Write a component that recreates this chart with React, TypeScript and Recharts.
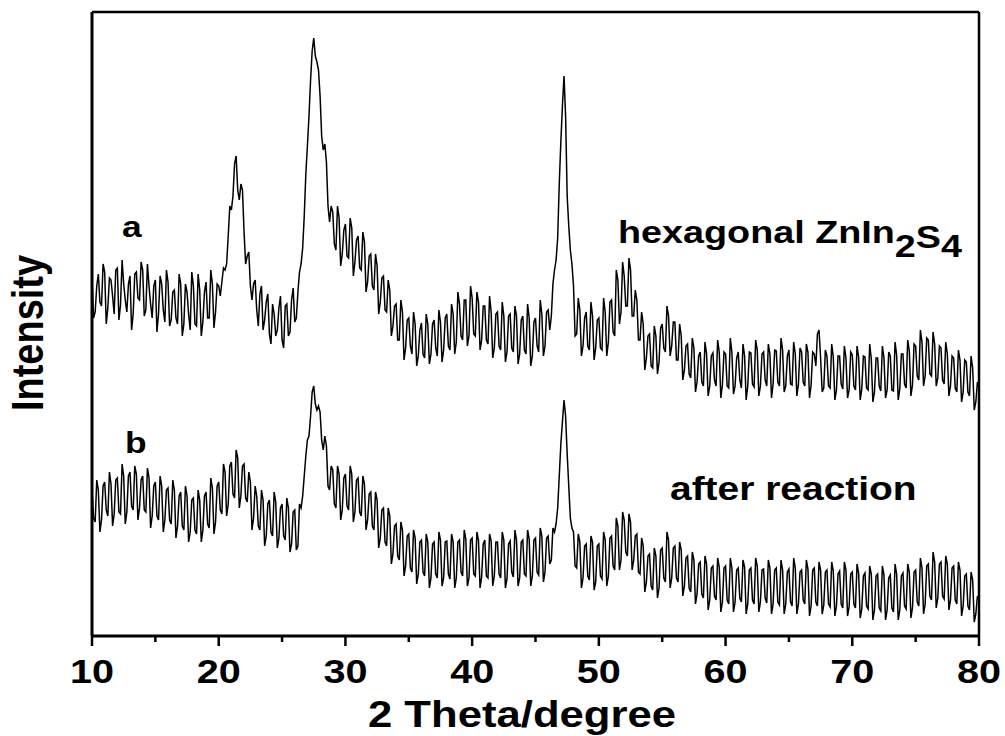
import { LineChart, Line, XAxis, YAxis } from "recharts";

// XRD patterns: main samples every 0.25° from 10° to 80°,
// plus the in-between samples (at +0.125°) that carry the rest of the noise.
const START = 10;
const STEP = 0.25;

// a: hexagonal ZnIn2S4
const SERIES_A = [
  358, 324, 362, 330, 364, 328, 356, 322, 368, 331, 352, 324, 360, 322, 364, 336,
  366, 326, 350, 318, 356, 322, 352, 314, 354, 316, 346, 312, 352, 312, 344, 306,
  350, 310, 346, 314, 354, 318, 352, 324, 350, 354, 366, 400, 426, 472, 446, 452,
  404, 380, 350, 352, 326, 342, 306, 334, 302, 332, 300, 328, 296, 330, 300, 336,
  314, 344, 372, 420, 490, 556, 598, 574, 540, 486, 474, 414, 424, 386, 418, 382,
  412, 378, 408, 374, 400, 366, 394, 354, 382, 346, 370, 334, 360, 324, 346, 310,
  332, 296, 324, 288, 318, 282, 312, 280, 313, 278, 312, 282, 316, 280, 314, 286,
  322, 286, 322, 294, 332, 296, 336, 300, 338, 300, 334, 296, 330, 292, 324, 288,
  324, 286, 320, 284, 322, 284, 320, 282, 320, 282, 318, 280, 318, 284, 322, 290,
  326, 320, 366, 398, 494, 560, 440, 386, 350, 302, 326, 290, 324, 286, 320, 288,
  318, 286, 324, 294, 336, 300, 356, 324, 360, 330, 366, 320, 336, 296, 312, 278,
  302, 268, 300, 274, 312, 284, 320, 290, 314, 276, 300, 266, 292, 258, 288, 254,
  284, 250, 282, 250, 283, 250, 284, 251, 282, 248, 283, 250, 284, 248, 280, 250,
  283, 249, 286, 250, 284, 250, 282, 252, 285, 250, 286, 250, 286, 251, 282, 252,
  284, 250, 284, 251, 282, 302, 278, 248, 280, 248, 279, 246, 280, 247, 278, 246,
  281, 246, 279, 247, 279, 246, 277, 244, 278, 245, 278, 246, 280, 245, 281, 247,
  282, 248, 285, 251, 290, 256, 294, 260, 296, 260, 292, 258, 288, 252, 282, 250,
  278, 244, 276, 244, 274, 240, 268, 234, 248,
];

const SERIES_A_MID = [
  318, 350, 334, 372, 312, 358, 340, 366, 316, 376, 336, 352, 306, 362, 338, 374,
  320, 372, 332, 350, 304, 360, 326, 366, 310, 344, 318, 362, 300, 352, 322, 364,
  312, 362, 300, 344, 318, 366, 308, 352, 340, 368, 372, 430, 440, 480, 436, 446,
  372, 384, 336, 356, 310, 350, 316, 342, 292, 322, 306, 340, 288, 332, 304, 348,
  318, 364, 388, 462, 520, 585, 580, 566, 500, 492, 430, 430, 392, 430, 370, 406,
  380, 418, 360, 396, 368, 404, 344, 380, 350, 382, 322, 358, 326, 356, 300, 330,
  296, 336, 276, 316, 290, 324, 270, 306, 282, 322, 272, 312, 288, 326, 274, 318,
  290, 332, 282, 344, 300, 336, 290, 350, 302, 344, 286, 330, 296, 340, 278, 322,
  290, 334, 274, 320, 288, 330, 272, 316, 286, 332, 270, 314, 290, 336, 280, 324,
  306, 352, 376, 452, 530, 520, 410, 372, 300, 338, 280, 318, 290, 334, 276, 316,
  288, 338, 280, 334, 304, 366, 312, 374, 330, 378, 320, 346, 296, 324, 266, 300,
  270, 310, 262, 308, 288, 330, 280, 314, 276, 312, 256, 290, 262, 298, 244, 280,
  254, 294, 240, 280, 256, 296, 238, 284, 250, 298, 242, 278, 256, 292, 236, 284,
  252, 296, 240, 282, 256, 292, 238, 286, 254, 298, 244, 280, 252, 294, 240, 288,
  254, 292, 238, 284, 270, 306, 244, 286, 250, 292, 236, 280, 252, 290, 238, 284,
  250, 290, 236, 280, 248, 292, 234, 278, 250, 290, 238, 284, 246, 294, 236, 282,
  252, 296, 240, 292, 260, 306, 250, 298, 262, 304, 250, 290, 256, 294, 240, 280,
  248, 286, 234, 276, 244, 280, 226, 254,
];

// b: after reaction
const SERIES_B = [
  148, 114, 146, 116, 154, 120, 152, 122, 158, 122, 160, 124, 164, 126, 162, 128,
  160, 124, 158, 120, 154, 116, 150, 116, 148, 112, 146, 110, 144, 106, 140, 104,
  138, 102, 136, 106, 144, 108, 148, 114, 154, 122, 164, 132, 174, 138, 178, 140,
  172, 134, 154, 118, 140, 106, 136, 100, 136, 100, 134, 98, 132, 96, 128, 92,
  126, 90, 128, 160, 196, 220, 250, 226, 224, 186, 190, 146, 166, 128, 162, 126,
  162, 126, 162, 124, 158, 120, 152, 116, 144, 106, 136, 98, 128, 90, 120, 82,
  112, 76, 106, 70, 102, 64, 98, 62, 96, 60, 94, 58, 94, 58, 96, 58,
  95, 57, 94, 58, 96, 60, 97, 58, 98, 60, 96, 59, 96, 58, 95, 60,
  94, 58, 96, 57, 95, 59, 96, 58, 96, 60, 97, 60, 98, 61, 100, 64,
  100, 76, 104, 128, 192, 236, 182, 118, 104, 68, 94, 58, 92, 56, 94, 54,
  92, 57, 96, 60, 100, 66, 110, 76, 116, 80, 114, 76, 102, 62, 90, 54,
  82, 46, 80, 48, 88, 54, 96, 58, 90, 54, 86, 50, 80, 44, 76, 42,
  74, 38, 72, 36, 70, 36, 69, 34, 70, 32, 68, 34, 68, 34, 69, 32,
  68, 32, 70, 34, 67, 33, 68, 32, 68, 31, 66, 32, 67, 30, 68, 32,
  66, 32, 67, 30, 68, 30, 66, 31, 66, 29, 65, 30, 65, 28, 66, 29,
  64, 28, 63, 27, 63, 27, 62, 26, 62, 25, 61, 26, 61, 24, 62, 26,
  63, 27, 64, 28, 66, 30, 68, 32, 72, 36, 74, 38, 74, 37, 72, 36,
  70, 32, 66, 30, 62, 26, 56, 22, 36,
];

const SERIES_B_MID = [
  118, 156, 104, 150, 126, 164, 110, 156, 124, 172, 112, 160, 130, 170, 116, 156,
  126, 168, 108, 150, 120, 160, 104, 146, 116, 156, 98, 140, 110, 150, 94, 136,
  106, 146, 94, 140, 112, 158, 102, 150, 126, 172, 120, 170, 142, 186, 128, 170,
  138, 164, 106, 150, 110, 146, 90, 132, 104, 144, 88, 128, 100, 138, 84, 124,
  86, 132, 140, 180, 200, 244, 232, 230, 196, 200, 150, 170, 132, 170, 116, 158,
  130, 170, 114, 156, 124, 160, 106, 142, 110, 144, 88, 126, 94, 128, 72, 110,
  80, 114, 60, 100, 68, 106, 52, 94, 64, 102, 48, 92, 62, 104, 50, 94,
  62, 102, 48, 94, 64, 106, 50, 96, 62, 104, 48, 92, 60, 102, 50, 94,
  62, 104, 48, 92, 64, 106, 50, 94, 62, 106, 50, 96, 64, 108, 54, 98,
  72, 108, 112, 160, 214, 220, 150, 108, 70, 102, 48, 90, 60, 100, 46, 90,
  60, 104, 50, 98, 70, 118, 66, 124, 84, 122, 66, 100, 64, 98, 44, 80,
  50, 88, 38, 86, 58, 104, 48, 88, 58, 94, 40, 78, 48, 84, 32, 72,
  42, 80, 26, 68, 40, 78, 24, 68, 36, 78, 24, 66, 38, 76, 22, 66,
  36, 78, 24, 66, 38, 76, 22, 66, 34, 76, 22, 64, 34, 78, 22, 64,
  36, 76, 20, 66, 34, 74, 22, 64, 32, 74, 20, 62, 32, 74, 20, 62,
  32, 72, 18, 60, 30, 70, 16, 60, 28, 70, 16, 58, 28, 72, 16, 60,
  30, 72, 18, 64, 34, 78, 22, 70, 40, 84, 28, 72, 40, 80, 26, 68,
  36, 74, 20, 60, 30, 64, 14, 40,
];

const X_TICKS = [10, 15, 20, 25, 30, 35, 40, 45, 50, 55, 60, 65, 70, 75, 80];

const rows: { t: number; a: number; b: number }[] = [];
SERIES_A.forEach((v, i) => {
  rows.push({ t: START + i * STEP, a: v, b: SERIES_B[i] });
  if (i < SERIES_A_MID.length) {
    rows.push({ t: START + i * STEP + STEP / 2, a: SERIES_A_MID[i], b: SERIES_B_MID[i] });
  }
});

const FONT = "'Liberation Sans', Arial, Helvetica, sans-serif";
const SX = 1.18; // the figure's text is stretched horizontally

function BottomTick({ x, y, payload }: any) {
  const v = payload.value as number;
  const major = v % 10 === 0;
  return (
    <g>
      <line x1={x} x2={x} y1={y} y2={y + (major ? 10 : 6)} stroke="#000" strokeWidth={2.5} />
      {major && (
        <text
          transform={`translate(${x},${y + 47}) scale(1.2,1)`}
          textAnchor="middle"
          fontFamily={FONT}
          fontWeight="bold"
          fontSize={33}
          fill="#000"
        >
          {v}
        </text>
      )}
    </g>
  );
}

function Label({ x, y, size, children }: { x: number; y: number; size: number; children: React.ReactNode }) {
  return (
    <text
      transform={`translate(${x},${y}) scale(${SX},1)`}
      fontFamily={FONT}
      fontWeight="bold"
      fontSize={size}
      fill="#000"
    >
      {children}
    </text>
  );
}

export default function App() {
  return (
    <div style={{ position: "absolute", left: 0, top: 0, width: 1005, height: 736, background: "#fff" }}>
      <LineChart
        width={1005}
        height={736}
        data={rows}
        margin={{ top: 0, right: 0, bottom: 0, left: 0 }}
      >
        <XAxis
          dataKey="t"
          type="number"
          domain={[10, 80]}
          ticks={X_TICKS}
          interval={0}
          height={100}
          tickSize={0}
          tickMargin={0}
          tickLine={false}
          axisLine={{ stroke: "#000", strokeWidth: 3 }}
          tick={<BottomTick />}
        />
        <XAxis
          xAxisId="top"
          dataKey="t"
          type="number"
          orientation="top"
          domain={[10, 80]}
          height={12}
          tick={false}
          tickLine={false}
          axisLine={{ stroke: "#000", strokeWidth: 2.5 }}
        />
        <YAxis
          type="number"
          domain={[0, 624]}
          width={92}
          tick={false}
          tickLine={false}
          axisLine={{ stroke: "#000", strokeWidth: 3 }}
        />
        <YAxis
          yAxisId="right"
          orientation="right"
          type="number"
          domain={[0, 624]}
          width={26}
          tick={false}
          tickLine={false}
          axisLine={{ stroke: "#000", strokeWidth: 2.5 }}
        />
        <Line dataKey="a" stroke="#000" strokeWidth={1.5} dot={false} isAnimationActive={false} />
        <Line dataKey="b" stroke="#000" strokeWidth={1.5} dot={false} isAnimationActive={false} />
      </LineChart>

      <svg
        width={1005}
        height={736}
        style={{ position: "absolute", left: 0, top: 0, pointerEvents: "none" }}
      >
        <Label x={122} y={237} size={30}>a</Label>
        <Label x={125} y={453} size={30}>b</Label>
        <Label x={618} y={243} size={32}>
          hexagonal ZnIn
          <tspan dy={14}>2</tspan>
          <tspan dy={-9}>S</tspan>
          <tspan dy={9}>4</tspan>
        </Label>
        <Label x={670} y={500} size={33}>after reaction</Label>
        <text
          transform={`translate(522,727) scale(${SX},1)`}
          textAnchor="middle"
          fontFamily={FONT}
          fontWeight="bold"
          fontSize={37}
          fill="#000"
        >
          2 Theta/degree
        </text>
        <text
          transform="translate(43,333) rotate(-90) scale(1,1.18)"
          textAnchor="middle"
          fontFamily={FONT}
          fontWeight="bold"
          fontSize={38}
          fill="#000"
        >
          Intensity
        </text>
      </svg>
    </div>
  );
}
